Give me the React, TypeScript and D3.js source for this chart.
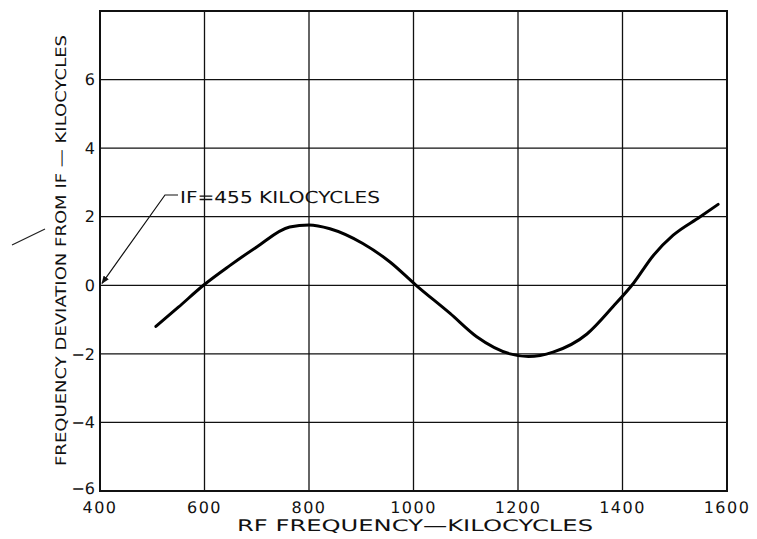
import { useEffect, useRef } from "react";
import * as d3 from "d3";

// RF frequency (kc) and deviation from IF (kc)
const rfFreq = [507, 550, 598, 649, 700, 763, 800, 840, 903, 955, 1005, 1070, 1121, 1185, 1220, 1267, 1332, 1382, 1421, 1459, 1497, 1548, 1583];
const deviation = [-1.2, -0.64, 0, 0.58, 1.12, 1.7, 1.76, 1.65, 1.22, 0.68, 0, -0.82, -1.5, -2.0, -2.08, -1.95, -1.42, -0.62, 0.06, 0.87, 1.46, 1.99, 2.36];

const xTicks = [400, 600, 800, 1000, 1200, 1400, 1600];
const yTicks = [-6, -4, -2, 0, 2, 4, 6];

const xTitle = "RF FREQUENCY\u2014KILOCYCLES";
const yTitle = "FREQUENCY DEVIATION FROM IF \u2014 KILOCYCLES";
const noteText = "IF=455 KILOCYCLES";
const noteFreq = 400;
const noteDev = 0;

export default function App() {
  const svgRef = useRef<SVGSVGElement | null>(null);

  useEffect(() => {
    if (!svgRef.current) return;
    const width = 757;
    const height = 539;
    const font = "'DejaVu Sans', sans-serif";

    const svg = d3.select(svgRef.current)
      .attr("width", width)
      .attr("height", height)
      .attr("text-rendering", "geometricPrecision");
    svg.selectAll("*").remove();

    svg.append("rect").attr("width", width).attr("height", height).attr("fill", "#fff");

    const x = d3.scaleLinear().domain([400, 1600]).range([100, 727]);
    const y = d3.scaleLinear().domain([-6, 8]).range([491, 11]);

    // grid
    const grid = svg.append("g").attr("stroke", "#111").attr("stroke-width", 1.3);
    grid.selectAll(".vline").data(xTicks).join("line")
      .attr("x1", d => x(d)).attr("x2", d => x(d))
      .attr("y1", y(8)).attr("y2", y(-6));
    grid.selectAll(".hline").data(yTicks).join("line")
      .attr("x1", x(400)).attr("x2", x(1600))
      .attr("y1", d => y(d)).attr("y2", d => y(d));

    svg.append("rect")
      .attr("x", x(400)).attr("y", y(8))
      .attr("width", x(1600) - x(400)).attr("height", y(-6) - y(8))
      .attr("fill", "none").attr("stroke", "#111").attr("stroke-width", 2);

    // tick labels
    svg.append("g").selectAll("text").data(xTicks).join("text")
      .attr("x", d => x(d)).attr("y", 513)
      .attr("text-anchor", "middle")
      .attr("font-family", font).attr("font-size", 16).attr("letter-spacing", 1.5)
      .attr("fill", "#111")
      .text(d => String(d));

    svg.append("g").selectAll("text").data(yTicks).join("text")
      .attr("x", 95).attr("y", d => (d === -6 ? y(d) - 3 : y(d))).attr("dy", "0.36em")
      .attr("text-anchor", "end")
      .attr("font-family", font).attr("font-size", 16)
      .attr("fill", "#111")
      .text(d => (d < 0 ? "\u2212" + Math.abs(d) : String(d)));

    // axis titles
    svg.append("text")
      .attr("x", 237).attr("y", 531)
      .attr("font-family", font).attr("font-size", 16)
      .attr("textLength", 356).attr("lengthAdjust", "spacingAndGlyphs")
      .attr("fill", "#111")
      .text(xTitle);

    svg.append("text")
      .attr("transform", "translate(66,466) rotate(-90)")
      .attr("font-family", font).attr("font-size", 14.5)
      .attr("textLength", 431).attr("lengthAdjust", "spacingAndGlyphs")
      .attr("fill", "#111")
      .text(yTitle);

    // curve
    const line = d3.line<number>()
      .x((_, i) => x(rfFreq[i]))
      .y(d => y(d))
      .curve(d3.curveMonotoneX);
    svg.append("path")
      .attr("d", line(deviation))
      .attr("fill", "none").attr("stroke", "#000").attr("stroke-width", 3)
      .attr("stroke-linejoin", "round").attr("stroke-linecap", "round");

    // annotation
    svg.append("defs").append("marker")
      .attr("id", "arrow").attr("viewBox", "0 0 10 10")
      .attr("refX", 9).attr("refY", 5)
      .attr("markerWidth", 8).attr("markerHeight", 8)
      .attr("orient", "auto-start-reverse")
      .attr("markerUnits", "userSpaceOnUse")
      .append("path").attr("d", "M0,1 L10,5 L0,9 Z").attr("fill", "#111");

    svg.append("path")
      .attr("d", `M178,195 L165,195 L${x(noteFreq) + 2},${y(noteDev) - 2}`)
      .attr("fill", "none").attr("stroke", "#111").attr("stroke-width", 1.2)
      .attr("marker-end", "url(#arrow)");

    svg.append("text")
      .attr("x", 180).attr("y", 203)
      .attr("font-family", font).attr("font-size", 16.5)
      .attr("textLength", 200).attr("lengthAdjust", "spacingAndGlyphs")
      .attr("fill", "#111")
      .text(noteText);

    // stray pen mark at the left edge of the scan
    svg.append("line")
      .attr("x1", 12).attr("y1", 245).attr("x2", 45).attr("y2", 229)
      .attr("stroke", "#222").attr("stroke-width", 1.2);
  }, []);

  return (
    <div style={{ position: "absolute", left: 0, top: 0 }}>
      <svg ref={svgRef}></svg>
    </div>
  );
}
